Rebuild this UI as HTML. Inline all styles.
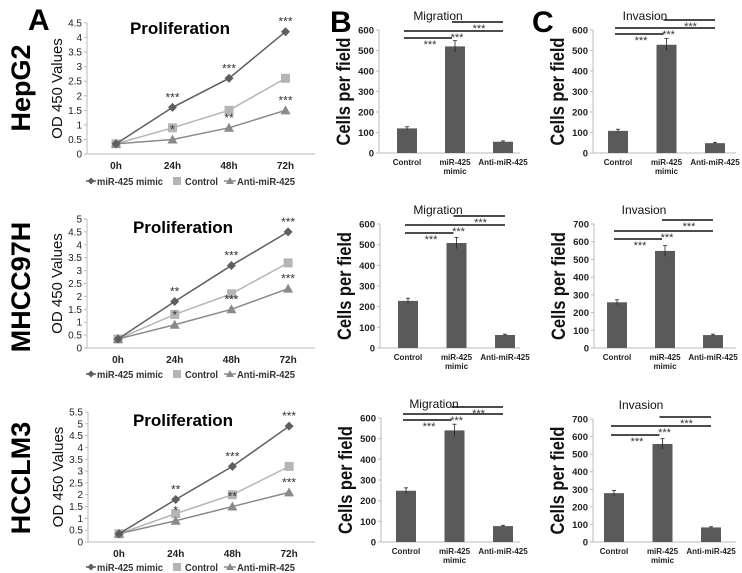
<!DOCTYPE html>
<html><head><meta charset="utf-8">
<style>
html,body{margin:0;padding:0;background:#fff;}
svg{display:block;font-family:"Liberation Sans",Arial,sans-serif;}
</style></head>
<body>
<svg id="fig" width="742" height="573" viewBox="0 0 742 573" xmlns="http://www.w3.org/2000/svg">
<text x="28" y="30" font-size="30" font-weight="bold" fill="#000">A</text>
<text x="330" y="32" font-size="30" font-weight="bold" fill="#000">B</text>
<text x="532" y="32" font-size="30" font-weight="bold" fill="#000">C</text>
<text transform="translate(30,88) rotate(-90)" text-anchor="middle" font-size="27" font-weight="bold" fill="#000">HepG2</text>
<text transform="translate(30,287) rotate(-90)" text-anchor="middle" font-size="27" font-weight="bold" fill="#000">MHCC97H</text>
<text transform="translate(30,478) rotate(-90)" text-anchor="middle" font-size="27" font-weight="bold" fill="#000">HCCLM3</text>
</svg>
<script>
// ---- Proliferation data ----
const timeCats = ["0h","24h","48h","72h"];
const hepMimic = [0.35,1.6,2.6,4.2];
const hepControl = [0.35,0.9,1.5,2.6];
const hepAnti = [0.35,0.5,0.9,1.5];
const hepMimicStars = ["","***","***","***"];
const hepAntiStars = ["","*","**","***"];
const mhcMimic = [0.35,1.8,3.2,4.5];
const mhcControl = [0.35,1.3,2.1,3.3];
const mhcAnti = [0.35,0.9,1.5,2.3];
const mhcMimicStars = ["","**","***","***"];
const mhcAntiStars = ["","*","***","***"];
const hccMimic = [0.35,1.8,3.2,4.9];
const hccControl = [0.35,1.2,2.0,3.2];
const hccAnti = [0.35,0.9,1.5,2.1];
const hccMimicStars = ["","**","***","***"];
const hccAntiStars = ["","*","**","***"];
// ---- Bar data ----
const barCats = ["Control","miR-425 mimic","Anti-miR-425"];
const hepMig = [120,520,55]; const hepMigErr = [8,28,4];
const hepInv = [108,528,48]; const hepInvErr = [8,30,4];
const mhcMig = [228,508,63]; const mhcMigErr = [13,27,4];
const mhcInv = [258,548,73]; const mhcInvErr = [14,30,5];
const hccMig = [248,540,77]; const hccMigErr = [14,30,4];
const hccInv = [278,558,83]; const hccInvErr = [15,30,4];

const NS="http://www.w3.org/2000/svg";
const svg=document.getElementById('fig');
function mk(tag,attrs,parent){const e=document.createElementNS(NS,tag);for(const k in attrs)e.setAttribute(k,attrs[k]);(parent||svg).appendChild(e);return e;}

function linePanel(name,cfg,mimic,control,anti,mStars,aStars){
  const g=mk('g',{});
  
  
  const y=v=>cfg.y0-(v/cfg.yMax)*(cfg.y0-cfg.yTop);
  const x=i=>cfg.x0+i*cfg.dx;
  mk('line',{x1:cfg.ax,y1:cfg.yTop,x2:cfg.ax,y2:cfg.y0,stroke:'#bbb','stroke-width':1},g);
  mk('line',{x1:cfg.ax,y1:cfg.y0,x2:cfg.axEnd,y2:cfg.y0,stroke:'#bbb','stroke-width':1},g);
  for(let v=0;v<=cfg.yMax+1e-9;v+=0.5){
    const t=mk('text',{x:cfg.ax-5,y:y(v)+3.5,'text-anchor':'end','font-size':10,fill:'#222'},g);
    t.textContent=(Math.round(v*10)/10).toString();
    
    
    mk('line',{x1:cfg.ax-3,y1:y(v),x2:cfg.ax,y2:y(v),stroke:'#bbb'},g);
  }
  timeCats.forEach((c,i)=>{
    const t=mk('text',{x:x(i),y:cfg.y0+15,'text-anchor':'middle','font-size':10,'font-weight':'bold',fill:'#222'},g);
    t.textContent=c;
    
    
  });
  const yt=mk('text',{transform:`translate(${cfg.ax-25},${(cfg.yTop+cfg.y0)/2}) rotate(-90)`,'text-anchor':'middle','font-size':15,fill:'#111'},g);
  yt.textContent='OD 450 Values';
  
  
  const tt=mk('text',{x:cfg.titleX,y:cfg.titleY,'text-anchor':'middle','font-size':17,'font-weight':'bold',fill:'#000'},g);
  tt.textContent='Proliferation';
  
  
  const series=[[control,'#b5b5b5','sq','control'],[anti,'#8a8a8a','tri','anti-mir-425'],[mimic,'#5e5e5e','dia','mir-425-mimic']];
  series.forEach(([d,col,m,sn])=>{
    const p=mk('polyline',{points:d.map((v,i)=>x(i)+','+y(v)).join(' '),fill:'none',stroke:col,'stroke-width':1.5},g);
    
    
    d.forEach((v,i)=>{
      const cx=x(i),cy=y(v);let e;
      if(m==='sq')e=mk('rect',{x:cx-4.5,y:cy-4.5,width:9,height:9,fill:col},g);
      else if(m==='tri')e=mk('polygon',{points:`${cx},${cy-5} ${cx+5},${cy+4} ${cx-5},${cy+4}`,fill:col},g);
      else e=mk('polygon',{points:`${cx},${cy-4.5} ${cx+4.5},${cy} ${cx},${cy+4.5} ${cx-4.5},${cy}`,fill:col},g);
      
      
    });
  });
  [[mimic,mStars],[anti,aStars]].forEach(([d,s])=>{
    s.forEach((st,i)=>{ if(!st)return;
      const t=mk('text',{x:x(i),y:y(d[i])-6,'text-anchor':'middle','font-size':12,fill:'#333'},g);
      t.textContent=st;
      
      
    });
  });
  // legend
  const ly=cfg.legY;
  const lg=mk('g',{},g);
  
  
  mk('line',{x1:86,y1:ly,x2:96,y2:ly,stroke:'#5e5e5e','stroke-width':1.5},lg);
  mk('polygon',{points:`91,${ly-3.5} 94.5,${ly} 91,${ly+3.5} 87.5,${ly}`,fill:'#5e5e5e'},lg);
  let t=mk('text',{x:97,y:ly+4,'font-size':10,'font-weight':'bold',fill:'#333',textLength:66,lengthAdjust:'spacingAndGlyphs'},lg);t.textContent='miR-425 mimic';
  
  
  mk('rect',{x:173,y:ly-4,width:8,height:8,fill:'#b5b5b5'},lg);
  t=mk('text',{x:185,y:ly+4,'font-size':10,'font-weight':'bold',fill:'#333',textLength:33,lengthAdjust:'spacingAndGlyphs'},lg);t.textContent='Control';
  
  
  mk('line',{x1:224,y1:ly,x2:236,y2:ly,stroke:'#8a8a8a','stroke-width':1.5},lg);
  mk('polygon',{points:`230,${ly-4} 234,${ly+3} 226,${ly+3}`,fill:'#8a8a8a'},lg);
  t=mk('text',{x:237,y:ly+4,'font-size':10,'font-weight':'bold',fill:'#333',textLength:58,lengthAdjust:'spacingAndGlyphs'},lg);t.textContent='Anti-miR-425';
  
  
}

function barPanel(name,cfg,vals,errs){
  const g=mk('g',{});
  
  
  const y=v=>cfg.y0-(v/cfg.yMax)*(cfg.y0-cfg.yTop);
  const x=i=>cfg.x0+i*cfg.dx;
  mk('line',{x1:cfg.ax,y1:cfg.yTop,x2:cfg.ax,y2:cfg.y0,stroke:'#bbb'},g);
  mk('line',{x1:cfg.ax,y1:cfg.y0,x2:cfg.axEnd,y2:cfg.y0,stroke:'#bbb'},g);
  for(let v=0;v<=cfg.yMax;v+=100){
    const t=mk('text',{x:cfg.ax-5,y:y(v)+3.5,'text-anchor':'end','font-size':9.5,'font-weight':'bold',fill:'#222'},g);
    t.textContent=v;
    
    
    mk('line',{x1:cfg.ax-3,y1:y(v),x2:cfg.ax,y2:y(v),stroke:'#bbb'},g);
  }
  const yt=mk('text',{transform:`translate(${cfg.ax-29},${(cfg.yTop+cfg.y0)/2}) rotate(-90)`,'text-anchor':'middle','font-size':19,'font-weight':'bold',fill:'#111',textLength:108,lengthAdjust:'spacingAndGlyphs'},g);
  yt.textContent='Cells per field';
  
  
  const tt=mk('text',{x:cfg.titleX,y:cfg.titleY,'text-anchor':'middle','font-size':12,fill:'#111'},g);
  tt.textContent=cfg.title;
  
  
  vals.forEach((v,i)=>{
    const r=mk('rect',{x:x(i)-10,y:y(v),width:20,height:cfg.y0-y(v),fill:'#5a5a5a'},g);
    
    
    mk('line',{x1:x(i),y1:y(v+errs[i]),x2:x(i),y2:y(v-errs[i]),stroke:'#222','stroke-width':0.8},g);
    mk('line',{x1:x(i)-2,y1:y(v+errs[i]),x2:x(i)+2,y2:y(v+errs[i]),stroke:'#222','stroke-width':0.8},g);
  });
  barCats.forEach((c,i)=>{
    const parts=c==='miR-425 mimic'?['miR-425','mimic']:[c];
    parts.forEach((p,k)=>{
      const t=mk('text',{x:x(i),y:cfg.y0+12+k*9,'text-anchor':'middle','font-size':8,'font-weight':'bold',fill:'#222'},g);
      t.textContent=p;
      
      
    });
  });
  const L=cfg.sig;
  const pairs=[[0,1,L[0],x(0)+23],[0,2,L[1],x(1)+2],[1,2,L[2],x(1)+24]];
  pairs.forEach(([a,b,ly,sx])=>{
    const l=mk('line',{x1:x(a)-3,y1:ly,x2:x(b)+(b===2?0:-3),y2:ly,stroke:'#111','stroke-width':1.6},g);
    
    
    const t=mk('text',{x:sx,y:ly+10,'text-anchor':'middle','font-size':11,fill:'#333'},g);
    t.textContent='***';
    
    
  });
}

linePanel('hepg2',{ax:87,axEnd:315,yTop:23,y0:154,yMax:4.5,x0:116,dx:56.5,titleX:180,titleY:34,legY:181},hepMimic,hepControl,hepAnti,hepMimicStars,hepAntiStars);
linePanel('mhcc97h',{ax:87,axEnd:315,yTop:219,y0:348,yMax:5,x0:118,dx:56.7,titleX:183,titleY:233,legY:374},mhcMimic,mhcControl,mhcAnti,mhcMimicStars,mhcAntiStars);
linePanel('hcclm3',{ax:88,axEnd:315,yTop:412,y0:542,yMax:5.5,x0:119,dx:56.7,titleX:183,titleY:426,legY:567},hccMimic,hccControl,hccAnti,hccMimicStars,hccAntiStars);

barPanel('hepg2-migration',{ax:379,axEnd:520,yTop:30,y0:153,yMax:600,x0:407,dx:48,title:'Migration',titleX:438,titleY:20,sig:[38,31,22]},hepMig,hepMigErr);
barPanel('hepg2-invasion',{ax:593,axEnd:736,yTop:30,y0:153,yMax:600,x0:618,dx:48.5,title:'Invasion',titleX:645,titleY:20,sig:[34,28,20]},hepInv,hepInvErr);
barPanel('mhcc97h-migration',{ax:380,axEnd:520,yTop:224,y0:348,yMax:600,x0:408,dx:48.5,title:'Migration',titleX:438,titleY:214,sig:[233,225,216]},mhcMig,mhcMigErr);
barPanel('mhcc97h-invasion',{ax:594,axEnd:736,yTop:224,y0:348,yMax:700,x0:617,dx:48,title:'Invasion',titleX:644,titleY:214,sig:[239,231,220]},mhcInv,mhcInvErr);
barPanel('hcclm3-migration',{ax:381,axEnd:520,yTop:418,y0:542,yMax:600,x0:406,dx:48.5,title:'Migration',titleX:434,titleY:408,sig:[420,414,407]},hccMig,hccMigErr);
barPanel('hcclm3-invasion',{ax:593,axEnd:736,yTop:419,y0:542,yMax:700,x0:614,dx:48.5,title:'Invasion',titleX:641,titleY:409,sig:[435,426,417]},hccInv,hccInvErr);
</script>
</body></html>
